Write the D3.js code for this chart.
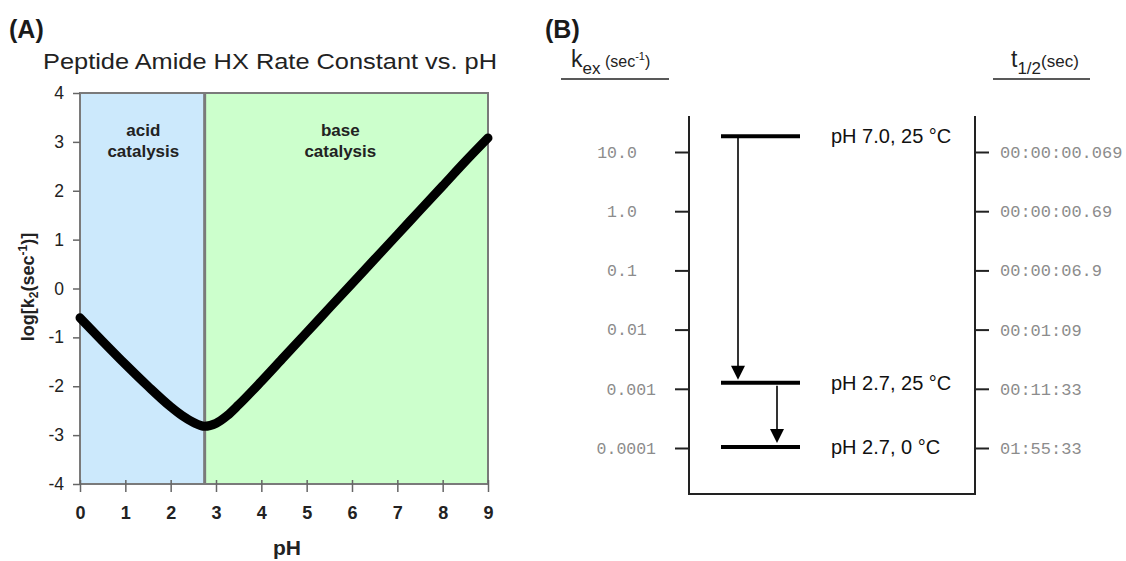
<!DOCTYPE html>
<html>
<head>
<meta charset="utf-8">
<script src="https://cdn.jsdelivr.net/npm/d3@7"></script>
<style>
  html, body { margin: 0; padding: 0; background: #fff; }
  svg { display: block; font-family: "Liberation Sans", Arial, sans-serif; }
</style>
</head>
<body>
<svg id="chart" width="1126" height="561"></svg>
<script>
// ---------- Panel A data ----------
const phValues = [0, 0.5, 1, 1.5, 2, 2.25, 2.5, 2.75, 3, 3.25, 3.5, 4, 4.5, 5, 5.5, 6, 6.5, 7, 7.5, 8, 8.5, 9];
const logK2    = [-0.6, -1.08, -1.55, -2.0, -2.42, -2.6, -2.74, -2.82, -2.76, -2.6, -2.38, -1.9, -1.4, -0.9, -0.4, 0.1, 0.6, 1.1, 1.6, 2.1, 2.6, 3.08];
const xTicksA = [0, 1, 2, 3, 4, 5, 6, 7, 8, 9];
const yTicksA = [-4, -3, -2, -1, 0, 1, 2, 3, 4];
const regionBoundaryPH = 2.75;
const regionNames = [["acid", "catalysis"], ["base", "catalysis"]];

// ---------- Panel B data ----------
const kexTicks = [10, 1, 0.1, 0.01, 0.001, 0.0001];
const kexLabels = ["10.0", "1.0", "0.1", "0.01", "0.001", "0.0001"];
const halfLifeLabels = ["00:00:00.069", "00:00:00.69", "00:00:06.9", "00:01:09", "00:11:33", "01:55:33"];
const conditions = ["pH 7.0, 25 \u00B0C", "pH 2.7, 25 \u00B0C", "pH 2.7, 0 \u00B0C"];
const conditionKex = [18.5, 0.00126, 0.000104];

const svg = d3.select("#chart");
const ink = "#1a1a1a";

// ================= PANEL A =================
const xA = d3.scaleLinear().domain([0, 9]).range([80, 488]);
const yA = d3.scaleLinear().domain([-4, 4]).range([484, 93]);
const gA = svg.append("g");

gA.append("text").attr("x", 9).attr("y", 38).attr("font-size", 25).attr("font-weight", "bold")
  .attr("fill", ink).text("(A)");

gA.append("text").attr("x", 43).attr("y", 69).attr("font-size", 22).attr("fill", "#222")
  .attr("textLength", 454).attr("lengthAdjust", "spacingAndGlyphs")
  .text("Peptide Amide HX Rate Constant vs. pH");

// backgrounds
gA.append("rect").attr("x", xA(0)).attr("y", yA(4))
  .attr("width", xA(regionBoundaryPH) - xA(0)).attr("height", yA(-4) - yA(4)).attr("fill", "#cce9fc");
gA.append("rect").attr("x", xA(regionBoundaryPH)).attr("y", yA(4))
  .attr("width", xA(9) - xA(regionBoundaryPH)).attr("height", yA(-4) - yA(4)).attr("fill", "#ccffcc");

// region labels
const regionCenters = [(xA(0) + xA(regionBoundaryPH)) / 2 + 1, (xA(regionBoundaryPH) + xA(9)) / 2 - 6];
regionNames.forEach((lines, i) => {
  const t = gA.append("text").attr("text-anchor", "middle").attr("font-size", 17)
    .attr("font-weight", "bold").attr("fill", "#222");
  lines.forEach((l, j) => t.append("tspan").attr("x", regionCenters[i]).attr("y", 136 + j * 21).text(l));
});

// border
gA.append("rect").attr("x", xA(0)).attr("y", yA(4))
  .attr("width", xA(9) - xA(0)).attr("height", yA(-4) - yA(4))
  .attr("fill", "none").attr("stroke", "#7a7a7a").attr("stroke-width", 2);
// divider
gA.append("line").attr("x1", xA(regionBoundaryPH)).attr("x2", xA(regionBoundaryPH))
  .attr("y1", yA(4)).attr("y2", yA(-4)).attr("stroke", "#7a7a7a").attr("stroke-width", 3);

// axes
const yAxisA = d3.axisLeft(yA).tickValues(yTicksA).tickSize(7).tickPadding(9).tickFormat(d3.format("d"));
const gyA = gA.append("g").attr("transform", `translate(${xA(0)},0)`).call(yAxisA);
gyA.select(".domain").remove();
gyA.selectAll(".tick line").attr("stroke", "#666").attr("stroke-width", 1.5);
gyA.selectAll(".tick text").attr("font-size", 17.5).attr("fill", "#222")
  .attr("font-family", "Liberation Sans, Arial, sans-serif").text(d => d < 0 ? "-" + Math.abs(d) : d);

const xAxisA = d3.axisBottom(xA).tickValues(xTicksA).tickSize(8).tickPadding(14).tickFormat(d3.format("d"));
const gxA = gA.append("g").attr("transform", `translate(0,${yA(-4)})`).call(xAxisA);
gxA.select(".domain").remove();
gxA.selectAll(".tick line").attr("y1", -4).attr("stroke", "#666").attr("stroke-width", 1.5);
gxA.selectAll(".tick text").attr("font-size", 18).attr("font-weight", "bold").attr("fill", "#222")
  .attr("font-family", "Liberation Sans, Arial, sans-serif");

// curve
const lineA = d3.line().x((d, i) => xA(phValues[i])).y(d => yA(d)).curve(d3.curveMonotoneX);
gA.append("path").datum(logK2).attr("d", lineA).attr("fill", "none")
  .attr("stroke", "#000").attr("stroke-width", 9).attr("stroke-linecap", "round").attr("stroke-linejoin", "round");

// axis labels
gA.append("text").attr("x", 287).attr("y", 555).attr("text-anchor", "middle")
  .attr("font-size", 21).attr("font-weight", "bold").attr("fill", "#222").text("pH");

const yl = gA.append("text").attr("transform", "translate(34,287) rotate(-90)")
  .attr("text-anchor", "middle").attr("font-size", 18).attr("font-weight", "bold").attr("fill", "#222");
yl.append("tspan").text("log[k");
yl.append("tspan").attr("font-size", 12).attr("dy", 4).text("2");
yl.append("tspan").attr("dy", -4).text("(sec");
yl.append("tspan").attr("font-size", 12).attr("dy", -7).text("-1");
yl.append("tspan").attr("dy", 7).text(")]");

// ================= PANEL B =================
const yB = d3.scaleLog().domain([10, 0.0001]).range([152, 448]);
const boxLeft = 689, boxRight = 975, boxTop = 116, boxBottom = 494;
const gB = svg.append("g");

gB.append("text").attr("x", 545).attr("y", 38).attr("font-size", 25).attr("font-weight", "bold")
  .attr("fill", ink).text("(B)");

// headers
const hk = gB.append("text").attr("x", 571).attr("y", 67).attr("fill", "#222");
hk.append("tspan").attr("font-size", 23).text("k");
hk.append("tspan").attr("font-size", 17).attr("dy", 7).text("ex");
hk.append("tspan").attr("font-size", 16).attr("dy", -7).text(" (sec");
hk.append("tspan").attr("font-size", 11).attr("dy", -7).text("-1");
hk.append("tspan").attr("font-size", 16).attr("dy", 7).text(")");
gB.append("line").attr("x1", 561).attr("x2", 669).attr("y1", 79).attr("y2", 79)
  .attr("stroke", "#222").attr("stroke-width", 1.5);

const ht = gB.append("text").attr("x", 1011).attr("y", 67).attr("fill", "#222");
ht.append("tspan").attr("font-size", 23).text("t");
ht.append("tspan").attr("font-size", 17).attr("dy", 7).text("1/2");
ht.append("tspan").attr("font-size", 17).attr("dy", -7).text("(sec)");
gB.append("line").attr("x1", 993).attr("x2", 1090).attr("y1", 79).attr("y2", 79)
  .attr("stroke", "#222").attr("stroke-width", 1.5);

// box
gB.append("path")
  .attr("d", `M${boxLeft},${boxTop}V${boxBottom}H${boxRight}V${boxTop}`)
  .attr("fill", "none").attr("stroke", "#222").attr("stroke-width", 2);

// left axis
const leftAxisB = d3.axisLeft(yB).tickValues(kexTicks).tickSize(14).tickFormat((d, i) => kexLabels[i]);
const glB = gB.append("g").attr("transform", `translate(${boxLeft},0)`).call(leftAxisB);
glB.select(".domain").remove();
glB.selectAll(".tick line").attr("stroke", "#222").attr("stroke-width", 2);
glB.selectAll(".tick text")
  .attr("font-family", "Liberation Mono, Courier New, monospace").attr("font-size", 16.5)
  .attr("fill", "#8c8c8c").attr("text-anchor", "start")
  .each(function(d, i) {
    const lbl = kexLabels[i];
    const w = this.getComputedTextLength();
    const cw = w / lbl.length;
    let start = 617 - lbl.indexOf(".") * cw;
    if (start + w > 656) start = 656 - w;
    d3.select(this).attr("x", start - boxLeft);
  });

// right axis
const rightAxisB = d3.axisRight(yB).tickValues(kexTicks).tickSize(14).tickPadding(11)
  .tickFormat((d, i) => halfLifeLabels[i]);
const grB = gB.append("g").attr("transform", `translate(${boxRight},0)`).call(rightAxisB);
grB.select(".domain").remove();
grB.selectAll(".tick line").attr("stroke", "#222").attr("stroke-width", 2);
grB.selectAll(".tick text")
  .attr("font-family", "Liberation Mono, Courier New, monospace").attr("font-size", 17)
  .attr("fill", "#8c8c8c");

// condition bars
const barX1 = 721, barX2 = 800;
conditionKex.forEach((k, i) => {
  gB.append("line").attr("x1", barX1).attr("x2", barX2).attr("y1", yB(k)).attr("y2", yB(k))
    .attr("stroke", "#000").attr("stroke-width", 4);
  gB.append("text").attr("x", 831).attr("y", yB(k) + 7).attr("font-size", 20).attr("fill", "#111")
    .text(conditions[i]);
});

// arrows
const arrowXs = [738, 777];
function arrow(x, y1, y2) {
  gB.append("line").attr("x1", x).attr("x2", x).attr("y1", y1).attr("y2", y2 - 12)
    .attr("stroke", "#000").attr("stroke-width", 1.6);
  gB.append("path").attr("d", `M${x - 7},${y2 - 14}L${x + 7},${y2 - 14}L${x},${y2}Z`).attr("fill", "#000");
}
arrow(arrowXs[0], yB(conditionKex[0]), yB(conditionKex[1]) - 3);
arrow(arrowXs[1], yB(conditionKex[1]) + 3, yB(conditionKex[2]) - 4);
</script>
</body>
</html>
